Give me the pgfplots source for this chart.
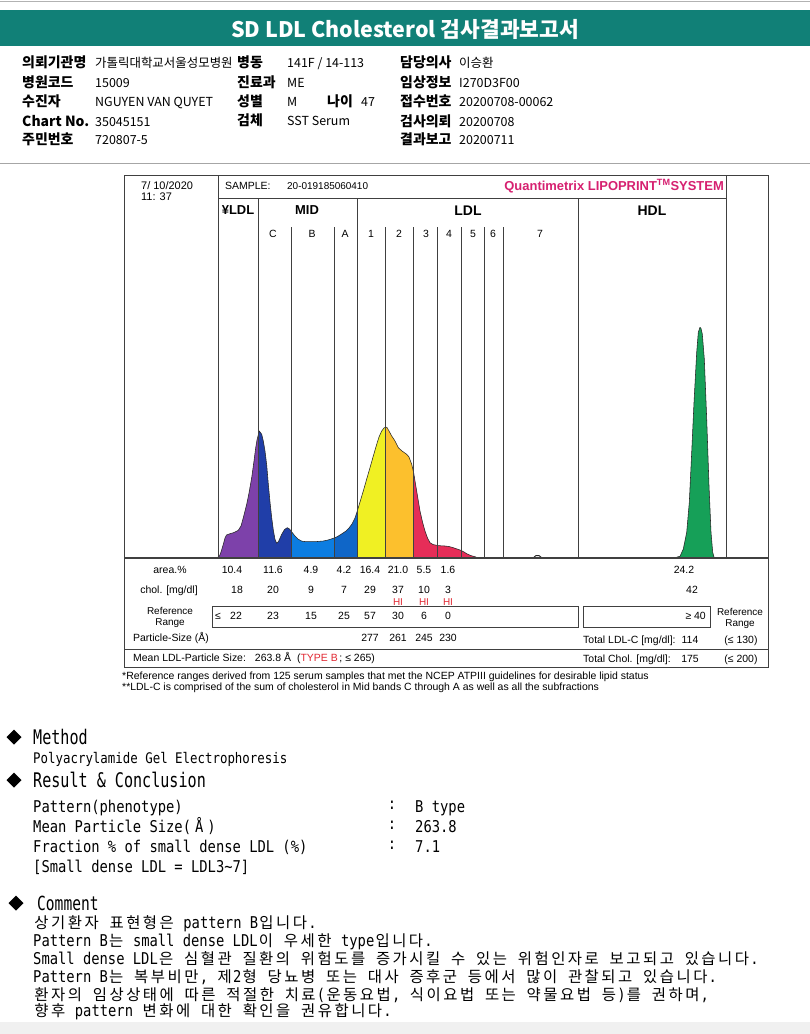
\documentclass[border=0pt]{standalone}
\usepackage{pgfplots}
\pgfplotsset{compat=1.18}
\usepackage{pgfplotstable}
\usepackage{fontspec}
\setmainfont{Liberation Sans}
\newfontfamily\kr{Noto Sans CJK KR}
\newfontfamily\mono[FakeStretch=0.85]{DejaVu Sans Mono}
\newfontfamily\monoh[FakeStretch=0.75]{DejaVu Sans Mono}
\newcommand\fs[1]{\fontsize{#1}{#1}\selectfont}
\newcommand\K[1]{\Kloop#1\relax}
\def\Kloop#1{\ifx\relax#1\else\makebox[16.7bp][c]{\kr\fs{15.5}#1}\expandafter\Kloop\fi}
\definecolor{teal1}{RGB}{17,128,119}
\definecolor{mag}{RGB}{214,32,112}
\definecolor{hired}{RGB}{225,40,50}
\definecolor{cP}{RGB}{125,65,170}
\definecolor{cC}{RGB}{32,62,168}
\definecolor{cB}{RGB}{12,125,225}
\definecolor{cA}{RGB}{15,102,200}
\definecolor{cY}{RGB}{240,240,35}
\definecolor{cO}{RGB}{252,192,45}
\definecolor{cR}{RGB}{230,45,88}
\definecolor{cG}{RGB}{22,160,88}

\pgfplotstableread{
x y
218.0 0
219.5 1
221 5
223.3 12.7
225 19
226.5 22
230 23.3
234 24.5
238.3 26.7
241 31
243.3 39.3
246.7 52.7
249 64
251.7 79.3
254 96
255.7 109.3
257 117
258 121
259.3 126
261.7 122.7
263.3 116
265 106
266.7 92
268.3 73
270 55
271.7 39.3
273.3 27
275 17.7
276.7 13.7
278.5 15.5
281.7 22.7
284.5 27.5
287.3 29.3
289.5 28
291.6 25.3
294.5 21.5
298.3 17.7
302 15.8
306.7 15.3
315 15.3
323.3 16
328 17
333.3 18.7
334 19
337 20.2
340 22
343 24
346 26
349 29
352 33
355 39
357.3 46
360 55
363.3 66
366.7 78
370 89.3
373.3 101
376.7 112.7
379 120
381.7 126
384 129
385.7 130
387 129.5
389 126
391.7 121
395 116
398.3 109.3
402 106
406.7 102.7
409 100
411.7 92.7
413.7 84
415 76
417.5 61
420 46
422.5 35
425 26
427.5 19
430 14.3
433 12.5
436.7 11.7
437.8 11.5
441 11.2
445 11
449 10.5
453.3 9.3
457 8
460 7
461.6 6.3
464 5
466.7 3.3
470 1.8
473 0.8
476 0
}\ldl

\pgfplotstableread{
x y
677 0
680 0.7
683.3 8
686.7 24.7
689.3 54.7
691.7 104.7
694 154.7
696.7 204.7
698.3 224.7
700 229.7
701 228.5
702.3 223
704.3 198
706.7 138
709 71.3
711 24.7
712.7 4.7
714 0
}\hdl

\tikzset{
 L/.style={anchor=base west, inner sep=0pt},
 C/.style={anchor=base, inner sep=0pt},
 R/.style={anchor=base east, inner sep=0pt},
 HL/.style={L, font=\kr\bfseries\fs{14}},
 HV/.style={L, font=\kr\fs{12.5}},
 HW/.style={L, font=\kr\fs{12.5}},
 T/.style={C, font=\fs{10.5}},
}

\begin{document}
\begin{tikzpicture}[x=1bp,y=-1bp]
\useasboundingbox (0,0) rectangle (810,1034);
\fill[white] (0,0) rectangle (810,1034);

% ---------- header ----------
\draw[black!30, line width=1.2bp] (0,1.2) -- (810,1.2);
\fill[teal1] (0,10) rectangle (810,46);
\node[C, text=white, font=\kr\bfseries\fs{21.5}] at (405,37) {SD LDL Cholesterol 검사결과보고서};
\draw[black!35, line width=1.2bp] (0,163.5) -- (810,163.5);

\node[HL] at (22,67) {의뢰기관명};
\node[HL] at (22,87) {병원코드};
\node[HL] at (22,106) {수진자};
\node[HL] at (22,126) {Chart No.};
\node[HL] at (22,144) {주민번호};
\node[HL] at (237,67) {병동};
\node[HL] at (237,87) {진료과};
\node[HL] at (237,106) {성별};
\node[HL] at (327,106) {나이};
\node[HL] at (237,125) {검체};
\node[HL] at (400,67) {담당의사};
\node[HL] at (400,87) {임상정보};
\node[HL] at (400,106) {접수번호};
\node[HL] at (400,126) {검사의뢰};
\node[HL] at (400,144) {결과보고};

\node[HV] at (95,67) {가톨릭대학교서울성모병원};
\node[HW] at (287,67) {141F / 14-113};
\node[HV] at (459,67) {이승환};
\node[HW] at (95,87) {15009};
\node[HW] at (287,87) {ME};
\node[HW] at (459,87) {I270D3F00};
\node[HW] at (95,106) {NGUYEN VAN QUYET};
\node[HW] at (287,106) {M};
\node[HW] at (361,106) {47};
\node[HW] at (459,106) {20200708-00062};
\node[HW] at (95,126) {35045151};
\node[HW] at (287,125) {SST Serum};
\node[HW] at (459,126) {20200708};
\node[HW] at (95,144) {720807-5};
\node[HW] at (459,144) {20200711};

% ---------- electrophoresis curve ----------
\begin{axis}[at={(124bp,-557bp)}, anchor=south west, scale only axis, hide axis,
  x=1bp, y=1bp, xmin=124, xmax=726, ymin=0, ymax=359, clip=false]
\addplot[fill=cP, draw=none, restrict x to domain=218:258] table {\ldl} \closedcycle;
\addplot[fill=cC, draw=none, restrict x to domain=258:291.6] table {\ldl} \closedcycle;
\addplot[fill=cB, draw=none, restrict x to domain=291.6:334] table {\ldl} \closedcycle;
\addplot[fill=cA, draw=none, restrict x to domain=334:357.3] table {\ldl} \closedcycle;
\addplot[fill=cY, draw=none, restrict x to domain=357.3:385.7] table {\ldl} \closedcycle;
\addplot[fill=cO, draw=none, restrict x to domain=385.7:413.7] table {\ldl} \closedcycle;
\addplot[fill=cR, draw=none, restrict x to domain=413.7:480] table {\ldl} \closedcycle;
\addplot[fill=cG, draw=none] table {\hdl} \closedcycle;
\addplot[draw=black!85, line width=0.55bp, line join=round] table {\ldl};
\addplot[draw=black!85, line width=0.55bp, line join=round] table {\hdl};
\addplot[draw=black!85, line width=0.9bp] coordinates {(534,0) (536,1.4) (539,1.4) (541,0)};
\end{axis}

% ---------- chart frame ----------
\begin{scope}[draw=black!75, line width=0.8bp]
\draw (124,175) rectangle (768,667);
\draw (218,175) -- (218,558);
\draw (218,198) -- (726,198);
\draw (726,175) -- (726,558);
\foreach \x in {258,357.3,578.3} \draw (\x,198) -- (\x,558);
\foreach \x in {291.6,334,385.7,413.7,437.8,461.6,484.5,503.2} \draw (\x,227) -- (\x,558);
\draw[line width=1.3bp] (124,558) -- (768,558);
\draw (124,649) -- (768,649);
\draw (212,606) rectangle (578,627);
\draw (583,606) rectangle (710,627);
\end{scope}

% chart header texts
\node[L, font=\fs{11}] at (141,189) {7/ 10/2020};
\node[L, font=\fs{11}] at (141,200) {11: 37};
\node[L, font=\fs{10.5}] at (225,189.5) {SAMPLE:};
\node[L, font=\fs{10}] at (287,189.5) {20-019185060410};
\node[R, text=mag, font=\bfseries\fs{13}] at (724,190) {Quantimetrix LIPOPRINT\textsuperscript{TM}SYSTEM};
\node[C, font=\bfseries\fs{13}] at (238,214.5) {¥LDL};
\node[C, font=\bfseries\fs{13}] at (307,214.5) {MID};
\node[C, font=\bfseries\fs{14}] at (468,215) {LDL};
\node[C, font=\bfseries\fs{14}] at (652,215) {HDL};
\foreach \x/\t in {273/C,312/B,345/A,371/1,399/2,426/3,449/4,473/5,493/6,540/7}
  \node[T] at (\x,237.5) {\t};

% table
\node[T] at (170,573.8) {area.\%};
\foreach \x/\v in {232/10.4,273/11.6,311/4.9,344/4.2,370/16.4,398/21.0,424/5.5,448/1.6,684/24.2}
  \node[T] at (\x,573.8) {\v};
\node[T] at (169,593.8) {chol. [mg/dl]};
\foreach \x/\v in {237/18,273/20,311/9,344/7,370/29,398/37,424/10,448/3,692/42}
  \node[T] at (\x,593.8) {\v};
\foreach \x in {398,424,448}
  \node[C, text=hired, font=\fs{10}] at (\x,605) {HI};
\node[C, font=\fs{10}] at (170,614.5) {Reference};
\node[C, font=\fs{10}] at (170,625.5) {Range};
\node[C, font=\fs{10}] at (740,615.5) {Reference};
\node[C, font=\fs{10}] at (740,626.5) {Range};
\node[T] at (218,619.8) {≤};
\foreach \x/\v in {236/22,273/23,311/15,344/25,370/57,398/30,424/6,448/0}
  \node[T] at (\x,619.8) {\v};
\node[R, font=\fs{10.5}] at (706,619.8) {≥ 40};
\node[L, font=\fs{10.5}] at (133,641.8) {Particle-Size (Å)};
\foreach \x/\v in {370/277,398/261,424/245,448/230}
  \node[T] at (\x,641.8) {\v};
\node[L, font=\fs{10.5}] at (583,643) {Total LDL-C [mg/dl]:};
\node[T] at (690,643) {114};
\node[T] at (741,643) {(≤ 130)};
\node[L, font=\fs{10.5}] at (133,661.8) {Mean LDL-Particle Size:\hspace{9bp}263.8 Å\hspace{6bp}(\textcolor{hired}{TYPE B}\,; ≤ 265)};
\node[L, font=\fs{10.5}] at (583,662.5) {Total Chol. [mg/dl]:};
\node[T] at (690,662.5) {175};
\node[T] at (741,662.5) {(≤ 200)};

% footnotes
\node[L, font=\fs{10.5}] at (122,679.5) {*Reference ranges derived from 125 serum samples that met the NCEP ATPIII guidelines for desirable lipid status};
\node[L, font=\fs{10.5}] at (122,690.5) {**LDL-C is comprised of the sum of cholesterol in Mid bands C through A as well as all the subfractions};

% ---------- lower report ----------
\foreach \y in {737,780} \fill (6.5,\y) -- (14,\y-7.5) -- (21.5,\y) -- (14,\y+7.5) -- cycle;
\fill (8.5,903) -- (16,895.5) -- (23.5,903) -- (16,910.5) -- cycle;
\node[L, font=\monoh\fs{20.2}] at (33,744) {Method};
\node[L, font=\mono\fs{14.66}] at (33,763) {Polyacrylamide Gel Electrophoresis};
\node[L, font=\monoh\fs{20.2}] at (33,787) {Result \& Conclusion};
\node[L, font=\mono\fs{16.3}] at (33,812) {Pattern(phenotype)};
\node[L, font=\mono\fs{16.3}] at (33,832) {Mean Particle Size(\hspace{4bp}Å\hspace{4bp})};
\node[L, font=\mono\fs{16.3}] at (33,852) {Fraction \% of small dense LDL (\%)};
\node[L, font=\mono\fs{16.3}] at (33,872) {[Small dense LDL = LDL3\textasciitilde7]};
\foreach \y in {809,829,849} \node[C, font=\mono\fs{16.3}] at (392,\y) {:};
\node[L, font=\mono\fs{16.3}] at (415,812) {B type};
\node[L, font=\mono\fs{16.3}] at (415,832) {263.8};
\node[L, font=\mono\fs{16.3}] at (415,852) {7.1};

\node[L, font=\monoh\fs{19.5}] at (37,910) {Comment};
\begin{scope}[every node/.style={L, font=\mono\fs{16.3}}]
\node at (33,928) {\K{상기환자} \K{표현형은} pattern B\K{입니다}.};
\node at (33,946) {Pattern B\K{는} small dense LDL\K{이} \K{우세한} type\K{입니다}.};
\node at (33,964) {Small dense LDL\K{은} \K{심혈관} \K{질환의} \K{위험도를} \K{증가시킬} \K{수} \K{있는} \K{위험인자로} \K{보고되고} \K{있습니다}.};
\node at (33,982) {Pattern B\K{는} \K{복부비만}, \K{제}2\K{형} \K{당뇨병} \K{또는} \K{대사} \K{증후군} \K{등에서} \K{많이} \K{관찰되고} \K{있습니다}.};
\node at (33,1000) {\K{환자의} \K{임상상태에} \K{따른} \K{적절한} \K{치료}(\K{운동요법}, \K{식이요법} \K{또는} \K{약물요법} \K{등})\K{를} \K{권하며},};
\node at (33,1016) {\K{향후} pattern \K{변화에} \K{대한} \K{확인을} \K{권유합니다}.};
\end{scope}
\fill[black!6] (0,1022) rectangle (810,1034);
\end{tikzpicture}
\end{document}
